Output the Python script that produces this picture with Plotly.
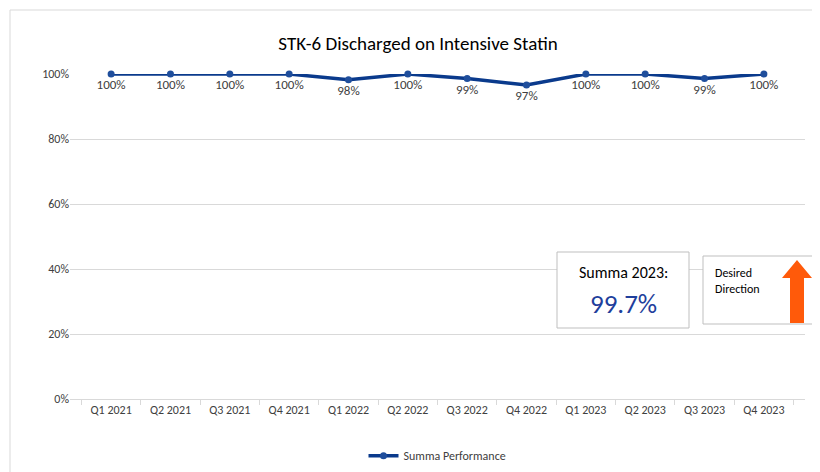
import plotly.graph_objects as go

quarters = ["Q1 2021", "Q2 2021", "Q3 2021", "Q4 2021", "Q1 2022", "Q2 2022",
            "Q3 2022", "Q4 2022", "Q1 2023", "Q2 2023", "Q3 2023", "Q4 2023"]
performance = [1.0, 1.0, 1.0, 1.0, 0.982, 1.0, 0.986, 0.966, 1.0, 1.0, 0.986, 1.0]
labels = ["100%", "100%", "100%", "100%", "98%", "100%", "99%", "97%", "100%", "100%", "99%", "100%"]
summa_2023 = "99.7%"

L, R, T, B = 62, 797, 66, 391
def px(x):
    return (x - L) / (R - L)
def py(y):
    return (B - y) / (B - T)

fig = go.Figure()
fig.add_trace(go.Scatter(
    x=quarters, y=performance, mode="lines+markers+text", name="Summa Performance",
    text=labels, textposition="bottom center", textfont=dict(size=13, color="#404040"),
    line=dict(color="#0a3a8c", width=3.5), marker=dict(size=7, color="#1f4e9c"),
    cliponaxis=False,
))

arrow = [(782, 315), (796, 315), (796, 270), (804, 270), (789, 252), (774, 270), (782, 270)]
path = "M " + " L ".join(f"{px(x)},{py(y)}" for x, y in arrow) + " Z"

fig.update_layout(
    width=820, height=472, plot_bgcolor="white", paper_bgcolor="white",
    margin=dict(l=L, r=820 - R, t=T, b=472 - B, autoexpand=False),
    font=dict(family="Calibri, Carlito, Lato, sans-serif", color="#404040"),
    title=dict(text="STK-6 Discharged on Intensive Statin", x=0.5, xanchor="center",
               y=0.94, font=dict(size=19, color="#000000")),
    xaxis=dict(showgrid=False, showline=True, linecolor="#d9d9d9", ticks="outside",
               tickcolor="#d9d9d9", ticklen=5, tickfont=dict(size=12), tickson="boundaries",
               automargin=False),
    yaxis=dict(range=[0, 1.0], tickvals=[0, 0.2, 0.4, 0.6, 0.8, 1.0], tickformat=".0%",
               gridcolor="#d9d9d9", zeroline=False, tickfont=dict(size=12), automargin=False),
    showlegend=True,
    legend=dict(orientation="h", x=0.5, xanchor="center", y=-0.13, yanchor="top",
                font=dict(size=12)),
    shapes=[
        dict(type="rect", xref="paper", yref="paper", x0=px(549), x1=px(681), y0=py(320), y1=py(244),
             line=dict(color="#bfbfbf", width=1), fillcolor="white"),
        dict(type="rect", xref="paper", yref="paper", x0=px(695), x1=px(806), y0=py(316), y1=py(248),
             line=dict(color="#bfbfbf", width=1), fillcolor="white"),
        dict(type="path", xref="paper", yref="paper", path=path, fillcolor="#ff5a0a", line=dict(width=0)),
        dict(type="rect", xref="paper", yref="paper", x0=px(2), x1=px(817), y0=py(469), y1=py(2),
             line=dict(color="#d9d9d9", width=1), layer="below"),
    ],
    annotations=[
        dict(text="Summa 2023:", xref="paper", yref="paper", x=px(615), y=py(264), showarrow=False,
             yanchor="middle", xanchor="center", font=dict(size=16, color="#000000")),
        dict(text=summa_2023, xref="paper", yref="paper", x=px(615), y=py(295), showarrow=False,
             yanchor="middle", xanchor="center", font=dict(size=27, color="#1f3f9c")),
        dict(text="Desired<br>Direction", xref="paper", yref="paper", x=px(705), y=py(273),
             xanchor="left", yanchor="middle", align="left", showarrow=False,
             font=dict(size=12, color="#000000")),
    ],
)
fig.write_html("out.html")
